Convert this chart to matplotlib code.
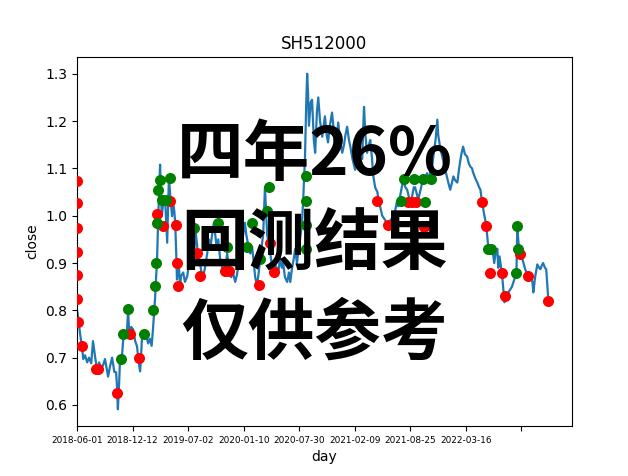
import matplotlib
matplotlib.use("Agg")
import matplotlib.pyplot as plt

# price line vertices: trading-day index and close value
days = [0, 2, 7, 11, 14, 18, 23, 27, 32, 36, 41, 45, 50, 54, 59, 63, 70, 74, 79, 84,
        88, 90, 92, 95, 97, 101, 104, 108, 112, 115, 117, 119, 122, 126, 131, 135, 139, 142, 144, 146,
        150, 155, 160, 164, 168, 171, 176, 178, 180, 182, 184, 187, 189, 191, 194, 198, 200, 203, 205, 207,
        210, 214, 216, 219, 221, 223, 225, 229, 232, 234, 239, 243, 248, 254, 259, 263, 266, 270, 272, 277,
        280, 284, 288, 293, 297, 300, 304, 308, 311, 315, 318, 322, 327, 331, 335, 338, 342, 347, 351, 356,
        360, 364, 367, 371, 374, 378, 381, 385, 390, 394, 398, 401, 405, 409, 412, 415, 419, 421, 423, 426,
        428, 431, 435, 438, 441, 445, 449, 453, 457, 461, 464, 468, 473, 477, 480, 484, 488, 491, 495, 499,
        502, 506, 509, 511, 513, 516, 518, 520, 522, 526, 529, 533, 536, 540, 543, 547, 552, 555, 558, 562,
        565, 569, 574, 578, 581, 585, 588, 592, 597, 601, 604, 608, 612, 615, 620, 626, 630, 633, 637, 642,
        644, 646, 649, 653, 657, 660, 664, 667, 671, 676, 679, 682, 687, 694, 697, 700, 705, 712, 716, 720,
        723, 727, 731, 734, 739, 743, 747, 750, 754, 758, 761, 765, 768, 772, 777, 781, 784, 788, 791, 795,
        800, 804, 807, 811, 813, 818, 824, 828, 833, 837, 840, 844, 847, 851, 856, 860, 865, 869, 873, 878,
        882, 885, 889, 892, 896, 901, 905, 908, 910, 912, 915, 917, 921, 924, 926, 930, 933, 935, 939, 942,
        946, 948, 951, 953, 957, 960, 962, 965, 968, 972, 975, 979, 982, 986, 989, 991, 993, 995, 999, 1002,
        1005, 1009, 1012, 1016, 1020, 1025, 1027, 1031, 1036, 1040, 1043, 1046, 1049, 1053, 1056, 1058, 1061]
close = [0.80, 0.79, 0.75, 0.724, 0.697, 0.705, 0.69, 0.70, 0.688, 0.735, 0.70, 0.676, 0.69, 0.675, 0.685, 0.697, 0.66, 0.68, 0.70, 0.67,
         0.669, 0.64, 0.591, 0.65, 0.703, 0.70, 0.738, 0.75, 0.745, 0.802, 0.76, 0.74, 0.765, 0.76, 0.735, 0.724, 0.69, 0.671, 0.70, 0.738,
         0.745, 0.752, 0.73, 0.74, 0.725, 0.76, 0.83, 0.87, 0.90, 0.97, 1.03, 1.108, 1.04, 0.999, 1.03, 1.04, 1.0, 0.943, 1.02, 1.083,
         1.04, 0.999, 1.03, 1.01, 0.985, 0.93, 0.865, 0.90, 0.85, 0.872, 0.88, 0.86, 0.872, 0.91, 0.93, 0.89, 0.975, 0.94, 0.92, 0.90,
         0.88, 0.872, 0.89, 0.92, 0.95, 0.93, 0.96, 0.985, 0.96, 0.93, 0.95, 0.91, 0.89, 0.884, 0.90, 0.92, 0.89, 0.87, 0.88, 0.86,
         0.875, 0.90, 0.93, 0.94, 0.96, 0.985, 0.96, 0.94, 0.92, 0.935, 0.90, 0.87, 0.853, 0.88, 0.908, 0.93, 0.96, 1.01, 1.06, 1.0,
         0.96, 0.943, 0.92, 0.90, 0.882, 0.90, 0.89, 0.88, 0.91, 0.89, 0.90, 0.87, 0.86, 0.88, 0.86, 0.89, 0.91, 0.93, 0.90, 0.93,
         0.95, 0.98, 1.03, 1.08, 1.12, 1.24, 1.30, 1.26, 1.19, 1.24, 1.245, 1.16, 1.133, 1.22, 1.25, 1.20, 1.167, 1.19, 1.21, 1.17,
         1.155, 1.19, 1.218, 1.18, 1.146, 1.17, 1.197, 1.16, 1.133, 1.15, 1.17, 1.188, 1.16, 1.147, 1.12, 1.097, 1.13, 1.16, 1.14, 1.12,
         1.18, 1.23, 1.17, 1.133, 1.15, 1.16, 1.12, 1.083, 1.06, 1.05, 1.03, 1.02, 1.0, 0.99, 0.98, 0.977, 0.99, 0.998, 1.01, 1.03,
         1.02, 1.04, 1.06, 1.076, 1.06, 1.055, 1.04, 1.028, 1.04, 1.06, 1.06, 1.045, 1.034, 1.05, 1.07, 1.08, 1.08, 1.09, 1.07, 1.093,
         1.11, 1.14, 1.16, 1.203, 1.17, 1.14, 1.118, 1.10, 1.08, 1.065, 1.055, 1.07, 1.083, 1.075, 1.07, 1.10, 1.13, 1.146, 1.13, 1.125,
         1.11, 1.104, 1.10, 1.09, 1.08, 1.07, 1.06, 1.055, 1.04, 1.03, 1.01, 1.0, 0.98, 0.95, 0.93, 0.935, 0.92, 0.93, 0.90, 0.92,
         0.93, 0.89, 0.914, 0.90, 0.872, 0.84, 0.817, 0.825, 0.83, 0.84, 0.844, 0.85, 0.859, 0.87, 0.878, 0.98, 0.95, 0.93, 0.92, 0.91,
         0.90, 0.886, 0.88, 0.872, 0.87, 0.86, 0.838, 0.87, 0.897, 0.89, 0.887, 0.895, 0.90, 0.89, 0.887, 0.86, 0.819]

# trade markers
sell_days = [0, 0, 0, 0, 0, 0, 2, 11, 43, 47, 90, 119, 140, 180, 194, 210, 223, 225, 227, 270,
             277, 333, 342, 410, 435, 444, 676, 700, 746, 755, 764, 782, 912, 921, 930, 957, 964, 998, 1016, 1061]
sell_price = [1.074, 1.026, 0.975, 0.924, 0.874, 0.825, 0.775, 0.724, 0.676, 0.676, 0.625, 0.751, 0.699, 1.003, 0.979, 1.032, 0.98, 0.90, 0.851, 0.922,
              0.872, 0.884, 0.884, 0.853, 0.943, 0.882, 1.032, 0.98, 1.03, 1.03, 1.03, 0.977, 1.03, 0.979, 0.878, 0.878, 0.83, 0.92, 0.872, 0.819]
buy_days = [99, 104, 115, 151, 171, 176, 178, 180, 182, 187, 191, 200, 209, 263, 317, 338, 383, 394, 412, 428,
            432, 516, 516, 516, 516, 730, 736, 759, 779, 797, 784, 926, 932, 989, 991, 993]
buy_price = [0.697, 0.751, 0.802, 0.751, 0.80, 0.851, 0.90, 0.984, 1.055, 1.076, 1.034, 1.034, 1.08, 0.975, 0.985, 0.933, 0.933, 0.985, 0.908, 1.01,
             1.06, 0.93, 0.98, 1.032, 1.083, 1.032, 1.078, 1.078, 1.078, 1.078, 1.028, 0.929, 0.929, 0.878, 0.979, 0.929]

tick_days = [0, 125, 250, 375, 500, 625, 750, 875, 1000]
tick_labels = ["2018-06-01", "2018-12-12", "2019-07-02", "2020-01-10", "2020-07-30",
               "2021-02-09", "2021-08-25", "2022-03-16", ""]

fig = plt.figure(figsize=(6.28, 4.76), dpi=100)
ax = fig.add_axes([77 / 628, 50 / 476, 495 / 628, 369 / 476])

ax.plot(days, close, color="#1f77b4", linewidth=1.6)
ax.scatter(sell_days, sell_price, color="red", s=48, zorder=3)
ax.scatter(buy_days, buy_price, color="green", s=48, zorder=3)

ax.set_xlim(0, days[-1] * 1.05)
ax.set_xticks(tick_days)
ax.set_xticklabels(tick_labels, fontsize=6.4)
ax.set_title("SH512000")
ax.set_xlabel("day")
ax.set_ylabel("close")

ax.text(0.48, 0.49, "四年26%\n回测结果\n仅供参考", transform=ax.transAxes,
        ha="center", va="center", multialignment="center", fontsize=48,
        fontweight="black", linespacing=1.42, color="black",
        family=["Noto Sans CJK SC", "DejaVu Sans"], zorder=5)

fig.savefig("out.png", dpi=100)
